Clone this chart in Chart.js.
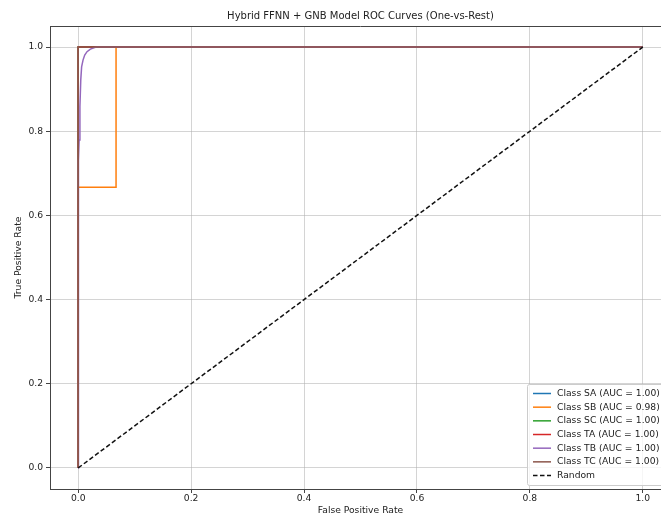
<!DOCTYPE html>
<html>
<head>
<meta charset="utf-8">
<title>Hybrid FFNN + GNB Model ROC Curves</title>
<script src="https://cdn.jsdelivr.net/npm/chart.js@4.4.1/dist/chart.umd.min.js"></script>
<style>
    html, body { margin: 0; padding: 0; background: #fff; overflow: hidden; }
    #wrap { position: absolute; left: 0; top: 0; width: 681px; height: 517px; }
</style>
</head>
<body>
<div id="wrap"><canvas id="rocChart" width="681" height="517"></canvas></div>
<script>
// --- datos ---
const classNames = ['SA', 'SB', 'SC', 'TA', 'TB', 'TC'];
const aucValues = [1.00, 0.98, 1.00, 1.00, 1.00, 1.00];
const classColors = ['#1f77b4', '#ff7f0e', '#2ca02c', '#d62728', '#9467bd', '#8c564b'];

const fprSA = [0, 0, 1];
const tprSA = [0, 1, 1];
const fprSB = [0, 0, 0.067, 0.067, 1];
const tprSB = [0, 0.667, 0.667, 1, 1];
const fprSC = [0, 0, 1];
const tprSC = [0, 1, 1];
const fprTA = [0, 0, 1];
const tprTA = [0, 1, 1];
const fprTB = [0, 0, 0.0008, 0.0016, 0.003, 0.0045, 0.006, 0.0085, 0.0115, 0.0156, 0.0216, 0.029, 0.033, 1];
const tprTB = [0, 0.684, 0.73, 0.779, 0.858, 0.922, 0.953, 0.969, 0.981, 0.989, 0.995, 0.999, 1, 1];
const fprTC = [0, 0, 1];
const tprTC = [0, 1, 1];
const fprRandom = [0, 1];
const tprRandom = [0, 1];

const xTicks = [0, 0.2, 0.4, 0.6, 0.8, 1.0];
const yTicks = [0, 0.2, 0.4, 0.6, 0.8, 1.0];

const chartTitle = 'Hybrid FFNN + GNB Model ROC Curves (One-vs-Rest)';

const curves = [
    [fprSA, tprSA], [fprSB, tprSB], [fprSC, tprSC],
    [fprTA, tprTA], [fprTB, tprTB], [fprTC, tprTC]
];

function toPoints(xs, ys) {
    return xs.map((x, i) => ({ x: x, y: ys[i] }));
}

const FONT = "'DejaVu Sans', sans-serif";
const TEXT = '#222';

const datasets = curves.map(function(c, i) {
    return {
        label: 'Class ' + classNames[i] + ' (AUC = ' + aucValues[i].toFixed(2) + ')',
        data: toPoints(c[0], c[1]),
        borderColor: classColors[i],
        borderWidth: 1.5,
        pointRadius: 0,
        tension: 0,
        fill: false,
        order: curves.length - i
    };
});
datasets.push({
    label: 'Random',
    data: toPoints(fprRandom, tprRandom),
    borderColor: '#111',
    borderWidth: 1.5,
    borderDash: [4.5, 2.5],
    pointRadius: 0,
    tension: 0,
    fill: false,
    order: 0
});

// titulo centrado sobre el area, marco superior/derecho y leyenda abajo a la derecha
const frameAndLegend = {
    id: 'frameAndLegend',
    afterDraw(chart) {
        const ctx = chart.ctx;
        const a = chart.chartArea;
        ctx.save();

        ctx.fillStyle = TEXT;
        ctx.font = '10px ' + FONT;
        ctx.textAlign = 'center';
        ctx.textBaseline = 'alphabetic';
        ctx.fillText(chartTitle, (a.left + a.right) / 2, 19);

        ctx.strokeStyle = '#444';
        ctx.lineWidth = 1;
        ctx.beginPath();
        ctx.moveTo(a.left, a.top + 0.5);
        ctx.lineTo(a.right, a.top + 0.5);
        ctx.moveTo(a.right - 0.5, a.top);
        ctx.lineTo(a.right - 0.5, a.bottom);
        ctx.stroke();

        // leyenda
        const right = a.right - 4, bottom = a.bottom - 4;
        const left = 527, top = 384;
        ctx.fillStyle = 'rgba(255,255,255,0.8)';
        ctx.strokeStyle = '#cccccc';
        ctx.beginPath();
        ctx.roundRect(left + 0.5, top + 0.5, right - left, bottom - top, 2);
        ctx.fill();
        ctx.stroke();

        ctx.font = '9.2px ' + FONT;
        ctx.textBaseline = 'middle';
        ctx.textAlign = 'left';
        chart.data.datasets.forEach(function(ds, i) {
            const y = top + 9.5 + i * 13.67;
            ctx.strokeStyle = ds.borderColor;
            ctx.lineWidth = 1.5;
            ctx.setLineDash(ds.borderDash || []);
            ctx.beginPath();
            ctx.moveTo(533, y);
            ctx.lineTo(551, y);
            ctx.stroke();
            ctx.setLineDash([]);
            ctx.fillStyle = TEXT;
            ctx.fillText(ds.label, 557, y);
        });
        ctx.restore();
    }
};

new Chart(document.getElementById('rocChart'), {
    type: 'line',
    data: { datasets: datasets },
    plugins: [frameAndLegend],
    options: {
        responsive: false,
        animation: false,
        devicePixelRatio: 1,
        layout: { padding: { left: 0, right: 10, top: 26, bottom: 0 } },
        plugins: {
            legend: { display: false },
            tooltip: { enabled: false },
            title: { display: false }
        },
        scales: {
            x: {
                type: 'linear',
                min: -0.05,
                max: 1.05,
                afterBuildTicks: function(scale) {
                    scale.ticks = xTicks.map(v => ({ value: v }));
                },
                afterFit: function(scale) { scale.height = 28; },
                ticks: {
                    color: TEXT,
                    padding: 1,
                    maxRotation: 0,
                    font: { family: FONT, size: 9.2, lineHeight: 1 },
                    callback: v => v.toFixed(1)
                },
                grid: { color: 'rgba(176,176,176,0.55)', tickColor: '#444', tickLength: 4, lineWidth: 1 },
                border: { color: '#444', width: 1 },
                title: {
                    display: true,
                    text: 'False Positive Rate',
                    color: TEXT,
                    font: { family: FONT, size: 9.2, lineHeight: 1.2 },
                    padding: { top: 0, bottom: 0.5 }
                }
            },
            y: {
                type: 'linear',
                min: -0.05,
                max: 1.05,
                afterBuildTicks: function(scale) {
                    scale.ticks = yTicks.map(v => ({ value: v }));
                },
                afterFit: function(scale) { scale.width = 50; },
                ticks: {
                    color: TEXT,
                    padding: 3,
                    font: { family: FONT, size: 9.2, lineHeight: 1 },
                    callback: v => v.toFixed(1)
                },
                grid: { color: 'rgba(176,176,176,0.55)', tickColor: '#444', tickLength: 4, lineWidth: 1 },
                border: { color: '#444', width: 1 },
                title: {
                    display: true,
                    text: 'True Positive Rate',
                    color: TEXT,
                    font: { family: FONT, size: 9.2, lineHeight: 1.2 },
                    padding: { top: 13.5, bottom: 0 }
                }
            }
        }
    }
});
</script>
</body>
</html>
